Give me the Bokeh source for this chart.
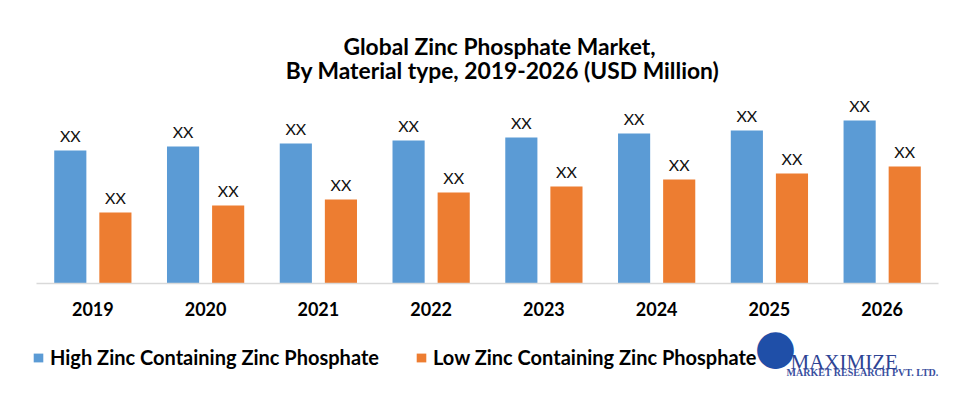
from bokeh.plotting import figure
from bokeh.models import (ColumnDataSource, Range1d, Label, Legend, LegendItem,
                          LinearAxis, FixedTicker)
from bokeh.core.properties import value
from bokeh.embed import file_html
from bokeh.resources import INLINE

years = ["2019", "2020", "2021", "2022", "2023", "2024", "2025", "2026"]
high_zinc = [133, 137, 140, 143, 146, 150, 153, 163]
low_zinc = [71, 78, 84, 91, 97, 104, 110, 117]
bar_labels = ["XX"] * len(years)
series_names = ["High Zinc Containing Zinc Phosphate", "Low Zinc Containing Zinc Phosphate"]
title_lines = ["Global Zinc Phosphate Market,", "By Material type, 2019-2026 (USD Million)"]

BLUE = "#5B9BD5"
ORANGE = "#ED7D31"
FONT = "Lato"
W, H = 942, 378

centers = [i + 0.5 for i in range(len(years))]
source = ColumnDataSource(data=dict(
    xh=[c - 0.2 for c in centers], xl=[c + 0.2 for c in centers],
    high=high_zinc, low=low_zinc, lab=bar_labels))

p = figure(width=W, height=H, output_backend="svg", toolbar_location=None,
           x_range=Range1d(-0.319, 8.035), y_range=Range1d(-95, 283),
           x_axis_type=None, y_axis_type=None,
           min_border_left=0, min_border_right=0, min_border_top=0, min_border_bottom=0)
p.outline_line_color = None
p.xgrid.visible = False
p.ygrid.visible = False
p.background_fill_color = "white"
p.border_fill_color = "white"

r1 = p.vbar(x="xh", top="high", width=0.285, source=source, fill_color=BLUE, line_color=None)
r2 = p.vbar(x="xl", top="low", width=0.285, source=source, fill_color=ORANGE, line_color=None)

for xc, col in (("xh", "high"), ("xl", "low")):
    p.text(x=xc, y=col, text="lab", source=source,
           text_align="center", text_baseline="alphabetic", y_offset=-15,
           text_font=value(FONT), text_font_size="16px", text_color="#111111")

ax = LinearAxis(ticker=FixedTicker(ticks=centers),
                major_label_overrides={c: y for c, y in zip(centers, years)},
                fixed_location=0, bounds=(0, len(years)))
ax.axis_line_color = "#d9d9d9"
ax.axis_line_width = 1.5
ax.major_tick_line_color = None
ax.minor_tick_line_color = None
ax.major_tick_out = 0
ax.major_tick_in = 0
ax.major_label_standoff = 18
ax.major_label_text_font = FONT
ax.major_label_text_font_style = "bold"
ax.major_label_text_font_size = "18px"
ax.major_label_text_color = "black"
p.add_layout(ax, "below")

# Title (screen coordinates, origin at bottom-left of the frame)
for txt, cx, cy in zip(title_lines, (499, 502), (45, 69)):
    p.add_layout(Label(x=cx, y=H - cy, x_units="screen", y_units="screen", text=txt,
                       text_align="center", text_baseline="middle", text_font=FONT,
                       text_font_style="bold", text_font_size="22.8px", text_color="black"))

legend = Legend(items=[LegendItem(label=series_names[0], renderers=[r1]),
                       LegendItem(label=series_names[1], renderers=[r2])],
                orientation="horizontal", location=(32, H - 369),
                glyph_width=12, glyph_height=11, label_standoff=6, spacing=36,
                padding=0, margin=0, border_line_color=None, background_fill_alpha=0,
                label_text_font=FONT, label_text_font_style="bold",
                label_text_font_size="20px", label_text_color="black")
p.add_layout(legend, "center")

# Logo
p.add_layout(Label(x=775, y=H - 345, x_units="screen", y_units="screen", text="\u25CF",
                   text_align="center", text_baseline="middle", text_font="DejaVu Sans",
                   text_font_size="48px", text_color="#1f4fa8"))
p.add_layout(Label(x=790, y=H - 361, x_units="screen", y_units="screen", text="MAXIMIZE",
                   text_align="left", text_baseline="alphabetic", text_font="Liberation Serif",
                   text_font_size="21px", text_color="#2e4494"))
p.add_layout(Label(x=786, y=H - 372, x_units="screen", y_units="screen", text="MARKET RESEARCH PVT. LTD.",
                   text_align="left", text_baseline="alphabetic", text_font="Liberation Serif",
                   text_font_style="bold", text_font_size="10px", text_color="#3a4fa0"))

open("out.html", "w").write(file_html(p, INLINE))
